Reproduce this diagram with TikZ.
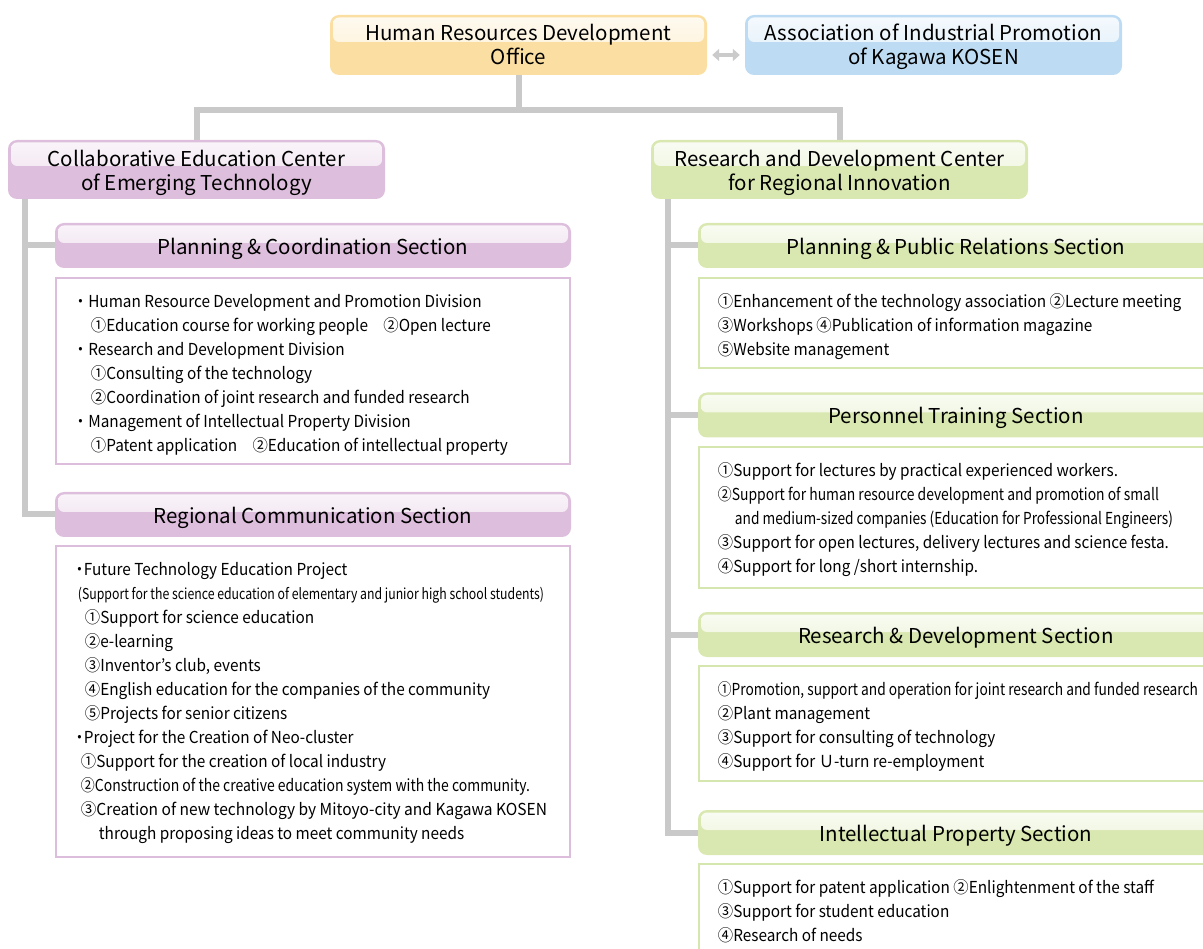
\documentclass[tikz,border=0pt]{standalone}
\usepackage{fontspec}
\usepackage{graphicx}
\setmainfont[FakeStretch=0.93]{Noto Sans CJK JP}
\newfontfamily\hfont{Noto Sans CJK JP}
\usetikzlibrary{arrows.meta}
\definecolor{orgF}{HTML}{FBDFA2}
\definecolor{bluF}{HTML}{BDDCF3}
\definecolor{purF}{HTML}{DDBEDC}
\definecolor{grnF}{HTML}{D9E8B1}
\definecolor{purB}{HTML}{DCBEDC}
\definecolor{grnB}{HTML}{D5E7AE}
\definecolor{connC}{HTML}{C9C9C9}
\definecolor{arrC}{HTML}{CBCBCB}
\newcommand\cz[2]{\resizebox{#1}{\height}{#2}}
\newcommand\htx[2][-4.2pt]{\raisebox{#1}[\height][\depth]{\begin{tabular}{@{}c@{}}#2\end{tabular}}}
\tikzset{
  hdr/.style 2 args={fill=#1, rounded corners=9pt, inner sep=0pt,
    font=\hfont\fontsize{20.5}{24}\selectfont,
    path picture={\fill[top color=#1!15!white, bottom color=#1!55!white, rounded corners=6pt]
      ([xshift=3pt,yshift=-2.5pt]path picture bounding box.north west) rectangle
      ([xshift=-3pt,yshift=-#2]path picture bounding box.north east);}},
  tbox/.style={draw=#1, line width=2.5pt, fill=white, inner sep=0pt},
  txt/.style={anchor=north west, inner sep=0pt, align=left, font=\fontsize{16.5}{24}\selectfont},
  conn/.style={draw=connC, line width=6pt},
  dbl/.style={draw=arrC, line width=4pt, {Triangle[length=7pt,width=12pt]}-{Triangle[length=7pt,width=12pt]}}
}
\begin{document}
\begin{tikzpicture}[x=1pt,y=-1pt]
\useasboundingbox (0,0) rectangle (1203,949);
\coordinate (jn) at (518.5,110);
\node[hdr={orgF}{27pt}, minimum width=377pt, minimum height=60pt] (hrd) at (518.5,45) {\htx[-3.2pt]{Human Resources Development\\Office}};
\node[hdr={bluF}{27pt}, minimum width=377pt, minimum height=60pt] (assoc) at (933.5,45) {\htx[-3.2pt]{Association of Industrial Promotion\\of Kagawa KOSEN}};
\draw[conn] (hrd.south) -- (jn);
\draw[conn] (196.5,140) coordinate (cecT) -- (cecT |- jn) -- (839.5,110) -- (839.5,140);
\draw[conn] (24.5,199) coordinate (lv) |- (55,245.5) coordinate (pcW);
\draw[conn] (lv) |- (55,514.5);
\draw[conn] (667.5,199) coordinate (rv) |- (698,245.5);
\draw[conn] (rv) |- (698,415);
\draw[conn] (rv) |- (698,634.5);
\draw[conn] (rv) |- (698,832.5);
\node[hdr={purF}{26pt}, minimum width=377pt, minimum height=59pt] (cec) at (196.5,169.5) {\htx{Collaborative Education Center\\of Emerging Technology}};
\node[hdr={grnF}{26pt}, minimum width=377pt, minimum height=59pt] (rdc) at (839.5,169.5) {\htx{Research and Development Center\\for Regional Innovation}};
\draw[dbl] ([xshift=5pt,yshift=-10pt]hrd.east) -- ([xshift=-5pt,yshift=-10pt]assoc.west);
\node[hdr={purF}{20pt}, minimum width=516pt, minimum height=45pt] (pc) at (313,245.5) {\htx{Planning \& Coordination Section}};
\node[hdr={purF}{20pt}, minimum width=516pt, minimum height=45pt] (rc) at (313,514.5) {\htx{Regional Communication Section}};
\node[tbox=purB, minimum width=514pt, minimum height=186pt] (pcb) at (313,371) {};
\node[tbox=purB, minimum width=514pt, minimum height=311pt] (rcb) at (313,701.5) {};
\node[hdr={grnF}{20pt}, minimum width=516pt, minimum height=45pt] (pp) at (956,245.5) {\htx{Planning \& Public Relations Section}};
\node[hdr={grnF}{20pt}, minimum width=516pt, minimum height=45pt] (pt) at (956,415) {\htx{Personnel Training Section}};
\node[hdr={grnF}{20pt}, minimum width=516pt, minimum height=45pt] (rd) at (956,634.5) {\htx{Research \& Development Section}};
\node[hdr={grnF}{20pt}, minimum width=516pt, minimum height=45pt] (ip) at (956,832.5) {\htx{Intellectual Property Section}};
\node[tbox=grnB, minimum width=515pt, minimum height=90pt] (ppb) at (956.5,323) {};
\node[tbox=grnB, minimum width=515pt, minimum height=141pt] (ptb) at (956.5,517.5) {};
\node[tbox=grnB, minimum width=515pt, minimum height=115pt] (rdb) at (956.5,723.5) {};
\node[tbox=grnB, minimum width=515pt, minimum height=100pt] (ipb) at (956.5,914) {};
\node[txt] (pct) at ([xshift=18pt,yshift=-16.5pt]pcb.north west) {\rule{0pt}{14.5pt}・Human Resource Development and Promotion Division\\
\hspace*{18pt}①Education course for working people　②Open lecture\\
・Research and Development Division\\
\hspace*{18pt}①Consulting of the technology\\
\hspace*{18pt}②Coordination of joint research and funded research\\
・Management of Intellectual Property Division\\
\hspace*{18pt}①Patent application　②Education of intellectual property};
\node[txt] (rct) at ([xshift=20pt,yshift=-16.5pt]rcb.north west) {\rule{0pt}{14.5pt}\makebox[9pt][c]{・}Future Technology Education Project\\
\hspace*{3pt}\cz{466pt}{\fontsize{15}{24}\selectfont(Support for the science education of elementary and junior high school students)}\\
\hspace*{10pt}①Support for science education\\
\hspace*{10pt}②e-learning\\
\hspace*{10pt}③Inventor’s club, events\\
\hspace*{10pt}④English education for the companies of the community\\
\hspace*{10pt}⑤Projects for senior citizens\\
\makebox[9pt][c]{・}Project for the Creation of Neo-cluster\\
\hspace*{6pt}①Support for the creation of local industry\\
\hspace*{6pt}\cz{449pt}{②Construction of the creative education system with the community.}\\
\hspace*{6pt}\cz{466pt}{③Creation of new technology by Mitoyo-city and Kagawa KOSEN}\\
\hspace*{24pt}through proposing ideas to meet community needs};
\node[txt] (ppt) at ([xshift=20pt,yshift=-16.5pt]ppb.north west) {\rule{0pt}{14.5pt}①Enhancement of the technology association ②Lecture meeting\\
③Workshops ④Publication of information magazine\\
⑤Website management};
\node[txt] (ptt) at ([xshift=20pt,yshift=-16.5pt]ptb.north west) {\rule{0pt}{14.5pt}①Support for lectures by practical experienced workers.\\
\cz{441pt}{②Support for human resource development and promotion of small}\\
\hspace*{17pt}\cz{438pt}{and medium-sized companies (Education for Professional Engineers)}\\
\cz{451pt}{③Support for open lectures, delivery lectures and science festa.}\\
④Support for long /short internship.};
\node[txt] (rdt) at ([xshift=20pt,yshift=-16.5pt]rdb.north west) {\rule{0pt}{14.5pt}\cz{480pt}{①Promotion, support and operation for joint research and funded research}\\
②Plant management\\
③Support for consulting of technology\\
④Support for Ｕ-turn re-employment};
\node[txt] (ipt) at ([xshift=20pt,yshift=-16pt]ipb.north west) {\rule{0pt}{14.5pt}①Support for patent application ②Enlightenment of the staff\\
③Support for student education\\
④Research of needs};
\end{tikzpicture}
\end{document}
